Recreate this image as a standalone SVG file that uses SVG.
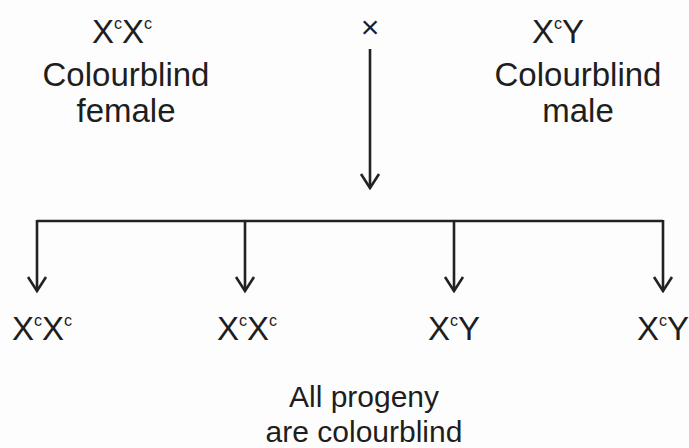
<svg xmlns="http://www.w3.org/2000/svg" width="689" height="448" viewBox="0 0 689 448">
<defs>
<style>
text{font-family:"Liberation Sans",Arial,sans-serif;font-size:33px;fill:#1e1e1e}
.sup{font-size:16px}
.c{text-anchor:middle}
.cap{font-size:30px}
.ln{stroke:#222;stroke-width:2.6;fill:none}
</style>
<marker id="ah" markerUnits="userSpaceOnUse" viewBox="-16 -12 18 24" refX="0" refY="0" markerWidth="18" markerHeight="24" orient="auto">
<path d="M-14,-9 L0,0 L-14,9" fill="none" stroke="#222" stroke-width="2.6"/>
</marker>
</defs>
<rect width="689" height="448" fill="#fdfdfd"/>
<g id="female">
<text x="92" y="43">X<tspan class="sup" dy="-14">c</tspan><tspan dy="14">X</tspan><tspan class="sup" dy="-14">c</tspan></text>
<text class="c" x="126" y="86">Colourblind</text>
<text class="c" x="126" y="122">female</text>
</g>
<g id="cross"><text class="c" x="370" y="38" style="font-size:32px">×</text></g>
<g id="male">
<text x="532" y="43">X<tspan class="sup" dy="-14">c</tspan><tspan dy="14">Y</tspan></text>
<text class="c" x="578" y="86">Colourblind</text>
<text class="c" x="578" y="122">male</text>
</g>
<g id="connectors">
<path class="ln" d="M370,49 V188" marker-end="url(#ah)"/>
<path class="ln" d="M37,221 H663"/>
<path class="ln" d="M37,220 V291" marker-end="url(#ah)"/>
<path class="ln" d="M245,221 V291" marker-end="url(#ah)"/>
<path class="ln" d="M454,221 V291" marker-end="url(#ah)"/>
<path class="ln" d="M663,220 V291" marker-end="url(#ah)"/>
</g>
<g id="child1"><text x="12" y="340">X<tspan class="sup" dy="-14">c</tspan><tspan dy="14">X</tspan><tspan class="sup" dy="-14">c</tspan></text></g>
<g id="child2"><text x="217" y="340">X<tspan class="sup" dy="-14">c</tspan><tspan dy="14">X</tspan><tspan class="sup" dy="-14">c</tspan></text></g>
<g id="child3"><text x="428" y="340">X<tspan class="sup" dy="-14">c</tspan><tspan dy="14">Y</tspan></text></g>
<g id="child4"><text x="637" y="340">X<tspan class="sup" dy="-14">c</tspan><tspan dy="14">Y</tspan></text></g>
<g id="caption">
<text class="c cap" x="364" y="407">All progeny</text>
<text class="c cap" x="364" y="442">are colourblind</text>
</g>
</svg>
